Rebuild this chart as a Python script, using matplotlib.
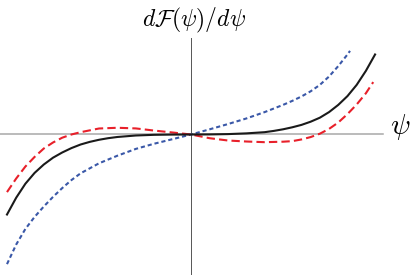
import matplotlib
matplotlib.use("Agg")
import matplotlib.pyplot as plt

plt.rcParams['mathtext.fontset'] = 'cm'

# psi grid
psi = [-1.0, -0.95, -0.9, -0.85, -0.8, -0.75, -0.7, -0.65, -0.6, -0.55, -0.5,
       -0.45, -0.4, -0.3, -0.2, -0.1, 0.0, 0.1, 0.2, 0.3, 0.4, 0.45, 0.5, 0.55,
       0.6, 0.65, 0.7, 0.75, 0.8, 0.85, 0.9, 0.95, 1.0]

# black solid curve
black_y = [-1.0, -0.79, -0.615, -0.48, -0.375, -0.29, -0.225, -0.17, -0.125,
           -0.092, -0.066, -0.046, -0.031, -0.0125, -0.004, -0.001, 0.0, 0.001,
           0.005, 0.014, 0.029, 0.045, 0.065, 0.09, 0.12, 0.16, 0.21, 0.28, 0.37,
           0.48, 0.62, 0.795, 1.0]

# red dashed curve
red_psi = [-1.0, -0.95, -0.9, -0.85, -0.8, -0.75, -0.7, -0.65, -0.6, -0.5, -0.4,
           -0.3, -0.2, -0.1, 0.0, 0.1, 0.2, 0.3, 0.4, 0.5, 0.55, 0.6, 0.65, 0.7,
           0.75, 0.8, 0.85, 0.9, 0.95, 0.99]
red_y = [-0.72, -0.55, -0.40, -0.28, -0.175, -0.10, -0.04, 0.0, 0.029, 0.075, 0.084,
         0.076, 0.049, 0.025, 0.0, -0.046, -0.075, -0.0875, -0.096, -0.09, -0.083,
         -0.062, -0.032, 0.01, 0.07, 0.15, 0.255, 0.375, 0.515, 0.655]

# blue dotted curve
blue_psi = [-1.0, -0.95, -0.9, -0.85, -0.8, -0.75, -0.7, -0.65, -0.6, -0.5, -0.4,
            -0.3, -0.2, -0.1, 0.0, 0.1, 0.2, 0.3, 0.4, 0.5, 0.55, 0.6, 0.65, 0.7,
            0.75, 0.8, 0.85, 0.864]
blue_y = [-1.62, -1.375, -1.18, -1.03, -0.90, -0.78, -0.67, -0.57, -0.485, -0.36,
          -0.265, -0.18, -0.115, -0.058, 0.0, 0.064, 0.13, 0.20, 0.28, 0.37, 0.42,
          0.475, 0.54, 0.62, 0.725, 0.855, 1.0, 1.045]

fig = plt.figure(figsize=(4.15, 2.75), dpi=100)
ax = fig.add_axes([0, 0, 1, 1])
ax.set_xlim(-1.038, 1.217)
ax.set_ylim(-1.756, 1.681)
ax.axis('off')

# axes lines
ax.axhline(0, xmin=0, xmax=383/415, color='#a8a8a8', lw=1.1, zorder=1)
ax.axvline(0, ymin=0, ymax=(275-38)/275, color='#555555', lw=0.7, zorder=1)

ax.plot(blue_psi, blue_y, color='#3a58a8', lw=1.5, dashes=(2.0, 1.4), zorder=3)
ax.plot(red_psi, red_y, color='#e8202a', lw=1.5, dashes=(4.0, 2.0), zorder=3)
ax.plot(psi, black_y, color='#1a1a1a', lw=1.5, zorder=4)

ax.text(194/415, 1 - 20/275, r'$d\mathcal{F}(\psi)/d\psi$',
        transform=ax.transAxes, ha='center', va='center', fontsize=17)
ax.text(400/415, 1 - 127/275, r'$\psi$', transform=ax.transAxes,
        ha='center', va='center', fontsize=21)

fig.savefig('out.png', dpi=100)
